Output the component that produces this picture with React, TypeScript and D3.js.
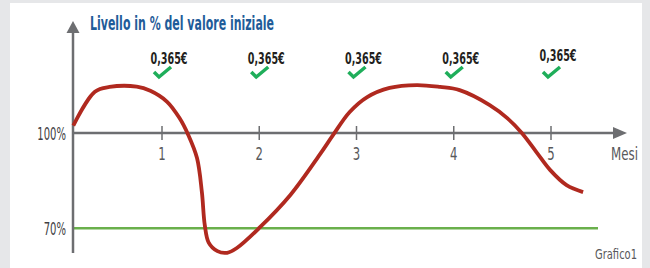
import React from 'react'
import * as d3 from 'd3'

// valori (mesi, livello in % del valore iniziale)
const months = [0.088, 0.31, 0.46, 0.74, 0.88, 1.05, 1.18, 1.27, 1.36, 1.41, 1.44, 1.48, 1.57, 1.67, 1.77, 2.0, 2.32, 2.62, 2.76, 2.93, 3.11, 3.34, 3.62, 3.86, 4.06, 4.37, 4.55, 4.7, 4.85, 4.99, 5.16, 5.33]
const levels = [102.3, 113.0, 114.5, 114.6, 113.3, 109.9, 104.7, 99.4, 92.1, 81.4, 71.0, 65.5, 62.8, 62.3, 63.8, 70.1, 80.5, 93.1, 99.4, 106.6, 111.3, 114.2, 115.1, 114.5, 113.5, 108.8, 104.7, 100, 94.0, 88.4, 83.6, 81.4]
const tickMonths = [1, 2, 3, 4, 5]
const couponMonths = [1, 2, 3, 4, 5]
const couponLabels = ['0,365€', '0,365€', '0,365€', '0,365€', '0,365€']
const yLabels = [100, 70]
const barrier = 70

const W = 650
const H = 268
const font = "'Liberation Sans Narrow', 'DejaVu Sans Condensed', Roboto, sans-serif"
const axisCol = '#6d6e71'

export default function App() {
  const x = d3.scaleLinear().domain([0, 5]).range([64.75, 551])
  const y = d3.scaleLinear().domain([70, 100]).range([228.3, 133])
  const axisX = 73
  const y0 = y(100)

  const pts: [number, number][] = months.map((m, i) => [m, levels[i]])
  const line = d3.line<[number, number]>()
    .x(d => x(d[0]))
    .y(d => y(d[1]))
    .curve(d3.curveCatmullRom.alpha(0.5))

  // testo stretto: font condensato schiacciato in orizzontale
  const narrow = (tx: number, ty: number, sx: number) => `translate(${tx},${ty}) scale(${sx},1)`

  return (
    <div>
      <style>{'body{margin:0}'}</style>
      <svg width={W} height={H} style={{ display: 'block' }}>
        <rect width={W} height={H} fill="#e6e7e9" />
        <rect x={10} y={3} width={632} height={H - 3} fill="#fff" />

        {/* titolo */}
        <text x={90} y={30} fontFamily={font} fontWeight="bold" fontSize={20}
          fill="#1f5c99" textLength={184} lengthAdjust="spacingAndGlyphs">
          Livello in % del valore iniziale
        </text>

        {/* barriera 70% */}
        <line x1={axisX} x2={598} y1={y(barrier)} y2={y(barrier)} stroke="#6ab04c" strokeWidth={2.5} />

        {/* assi */}
        <line x1={axisX} x2={axisX} y1={30} y2={253} stroke={axisCol} strokeWidth={2.5} />
        <polygon points={`${axisX},21 ${axisX - 6.5},33 ${axisX + 6.5},33`} fill={axisCol} />
        <line x1={axisX} x2={614} y1={y0} y2={y0} stroke={axisCol} strokeWidth={2.5} />
        <polygon points={`627,${y0} 613,${y0 - 6} 613,${y0 + 6}`} fill={axisCol} />

        {tickMonths.map(m => (
          <g key={m}>
            <line x1={x(m)} x2={x(m)} y1={y0 - 7} y2={y0 + 7} stroke={axisCol} strokeWidth={1.5} />
            <text transform={narrow(x(m), 159.5, 0.72)} textAnchor="middle" fontFamily={font}
              fontSize={18} fill="#58595b">{m}</text>
          </g>
        ))}
        <text x={638} y={159.5} textAnchor="end" fontFamily={font} fontSize={18} fill="#58595b"
          textLength={27} lengthAdjust="spacingAndGlyphs">Mesi</text>

        {yLabels.map(v => (
          <text key={v} transform={narrow(66, y(v) + 7, 0.62)} textAnchor="end" fontFamily={font}
            fontSize={18} fill="#414042">{v}%</text>
        ))}

        {/* cedole */}
        {couponMonths.map((m, i) => (
          <g key={i}>
            <text x={x(m) + 7} y={63.5 - (i === 4 ? 3 : 0)} textAnchor="middle" fontFamily={font}
              fontWeight="bold" fontSize={16} fill="#231f20" textLength={37}
              lengthAdjust="spacingAndGlyphs">{couponLabels[i]}</text>
            <path d={`M${x(m) - 8},${72} L${x(m) - 3},${77} L${x(m) + 9},${67}`}
              fill="none" stroke="#1fae5a" strokeWidth={3.5} strokeLinecap="butt" strokeLinejoin="miter" />
          </g>
        ))}

        {/* andamento */}
        <path d={line(pts) || ''} fill="none" stroke="#b0291f" strokeWidth={3.8} strokeLinecap="butt" />

        <text x={637} y={259} textAnchor="end" fontFamily={font} fontSize={14} fill="#58595b"
          textLength={42} lengthAdjust="spacingAndGlyphs">Grafico1</text>
      </svg>
    </div>
  )
}
